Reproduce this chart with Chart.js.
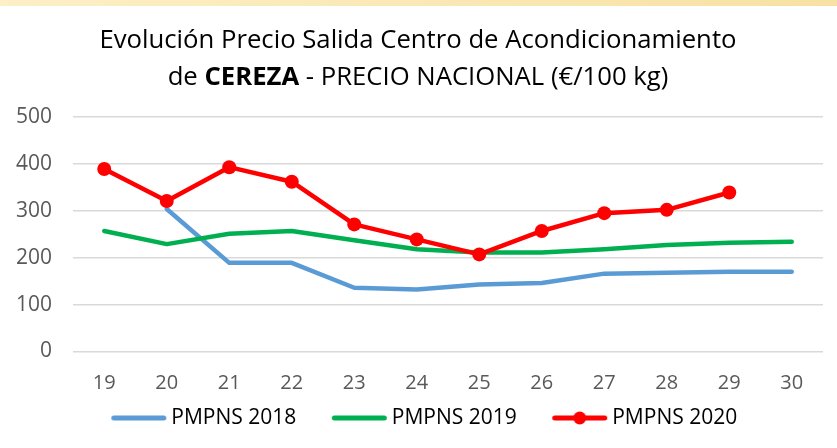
<!DOCTYPE html>
<html lang="es">
<head>
<meta charset="utf-8">
<title>Evolución Precio Salida Centro de Acondicionamiento de CEREZA</title>
<script src="https://cdn.jsdelivr.net/npm/chart.js@4.4.1/dist/chart.umd.min.js"></script>
<style>
  html, body { margin: 0; padding: 0; background: #fff; }
  #contenedor { width: 837px; height: 448px; position: relative; }
</style>
</head>
<body>
<div id="contenedor"><canvas id="graficaCereza"></canvas></div>
<script>
// semanas de campaña
const semanas = ['19', '20', '21', '22', '23', '24', '25', '26', '27', '28', '29', '30'];

// precio medio ponderado nacional (€/100 kg)
const pmpns2018 = [null, 304, 189, 189, 136, 132, 143, 146, 166, 168, 170, 170];
const pmpns2019 = [257, 229, 251, 257, 237, 218, 211, 211, 218, 227, 232, 234];
const pmpns2020 = [389, 321, 393, 362, 271, 239, 207, 257, 295, 302, 339, null];

const ticksY = [0, 100, 200, 300, 400, 500];

const azul = '#5b9bd5';
const verde = '#00b050';
const rojo = '#ff0000';
const gris = '#595959';

Chart.defaults.font.family = "'Open Sans', sans-serif";

// muestra de la leyenda: trazo y, si procede, el punto.
// el lienzo es mas ancho que el trazo para dejar hueco entre elementos
function marcaLeyenda(color, conPunto) {
    const c = document.createElement('canvas');
    c.width = 90;
    c.height = 18;
    const g = c.getContext('2d');
    g.strokeStyle = color;
    g.lineWidth = 5;
    g.lineCap = 'round';
    g.beginPath();
    g.moveTo(35.5, 9);
    g.lineTo(85.5, 9);
    g.stroke();
    if (conPunto) {
        g.fillStyle = color;
        g.beginPath();
        g.arc(60.5, 9, 6.5, 0, Math.PI * 2);
        g.fill();
    }
    return c;
}

// titulo en dos lineas con "CEREZA" en negrita + franja superior
const tituloCereza = {
    id: 'tituloCereza',
    beforeDraw(chart) {
        const ctx = chart.ctx;
        const grad = ctx.createLinearGradient(0, 0, chart.width, 0);
        grad.addColorStop(0, '#fdefc6');
        grad.addColorStop(1, '#f7e1a4');
        ctx.save();
        ctx.fillStyle = grad;
        ctx.fillRect(0, 0, chart.width, 6);
        ctx.restore();
    },
    afterDraw(chart) {
        const ctx = chart.ctx;
        const cx = 418;
        const normal = "25.7px 'Open Sans'";
        const negrita = "bold 25.7px 'Open Sans'";
        ctx.save();
        ctx.fillStyle = '#000';
        ctx.textBaseline = 'alphabetic';
        ctx.textAlign = 'left';

        const linea1 = 'Evolución Precio Salida Centro de Acondicionamiento';
        ctx.font = normal;
        ctx.fillText(linea1, cx - ctx.measureText(linea1).width / 2, 48);

        const trozos = [
            { texto: 'de ', fuente: normal },
            { texto: 'CEREZA', fuente: negrita },
            { texto: ' - PRECIO NACIONAL (€/100 kg)', fuente: normal }
        ];
        let total = 0;
        trozos.forEach(t => { ctx.font = t.fuente; t.ancho = ctx.measureText(t.texto).width; total += t.ancho; });
        let x = cx - total / 2;
        trozos.forEach(t => { ctx.font = t.fuente; ctx.fillText(t.texto, x, 85); x += t.ancho; });
        ctx.restore();
    }
};

const ctx = document.getElementById('graficaCereza').getContext('2d');

const grafica = new Chart(ctx, {
    type: 'line',
    data: {
        labels: semanas,
        datasets: [{
            label: 'PMPNS 2018',
            data: pmpns2018,
            borderColor: azul,
            backgroundColor: azul,
            borderWidth: 4.5,
            pointRadius: 0,
            order: 3,
            marca: marcaLeyenda(azul, false)
        }, {
            label: 'PMPNS 2019',
            data: pmpns2019,
            borderColor: verde,
            backgroundColor: verde,
            borderWidth: 4.5,
            pointRadius: 0,
            order: 2,
            marca: marcaLeyenda(verde, false)
        }, {
            label: 'PMPNS 2020',
            data: pmpns2020,
            borderColor: rojo,
            backgroundColor: rojo,
            borderWidth: 4.5,
            pointRadius: 7,
            pointBorderWidth: 0,
            pointBackgroundColor: rojo,
            order: 1,
            marca: marcaLeyenda(rojo, true)
        }]
    },
    options: {
        responsive: true,
        maintainAspectRatio: false,
        animation: false,
        devicePixelRatio: 1,
        elements: {
            line: { tension: 0, borderJoinStyle: 'round', borderCapStyle: 'round' }
        },
        layout: {
            padding: { top: 117, right: 14, bottom: 9.5, left: 0 }
        },
        plugins: {
            title: { display: false },
            tooltip: { enabled: false },
            legend: {
                position: 'bottom',
                labels: {
                    usePointStyle: true,
                    pointStyleWidth: 75,
                    padding: 10,
                    color: '#000',
                    font: { size: 21 },
                    generateLabels(chart) {
                        return chart.data.datasets.map((ds, i) => ({
                            text: ds.label,
                            pointStyle: ds.marca,
                            datasetIndex: i,
                            hidden: false,
                            fontColor: '#000',
                            lineWidth: 0,
                            strokeStyle: 'transparent',
                            fillStyle: ds.borderColor
                        }));
                    }
                }
            }
        },
        scales: {
            x: {
                offset: true,
                grid: { display: false, drawTicks: false },
                border: { display: false },
                ticks: { color: gris, font: { size: 20 }, padding: 20, autoSkip: false, maxRotation: 0 },
                afterFit(escala) { escala.height = 46; }
            },
            y: {
                min: 0,
                max: 500,
                afterBuildTicks(escala) { escala.ticks = ticksY.map(v => ({ value: v })); },
                grid: { color: '#d9d9d9', lineWidth: 1.5, drawTicks: false },
                border: { display: false },
                ticks: { color: gris, font: { size: 21 }, padding: 21 },
                afterFit(escala) { escala.width = 73; }
            }
        }
    },
    plugins: [tituloCereza]
});
</script>
</body>
</html>
